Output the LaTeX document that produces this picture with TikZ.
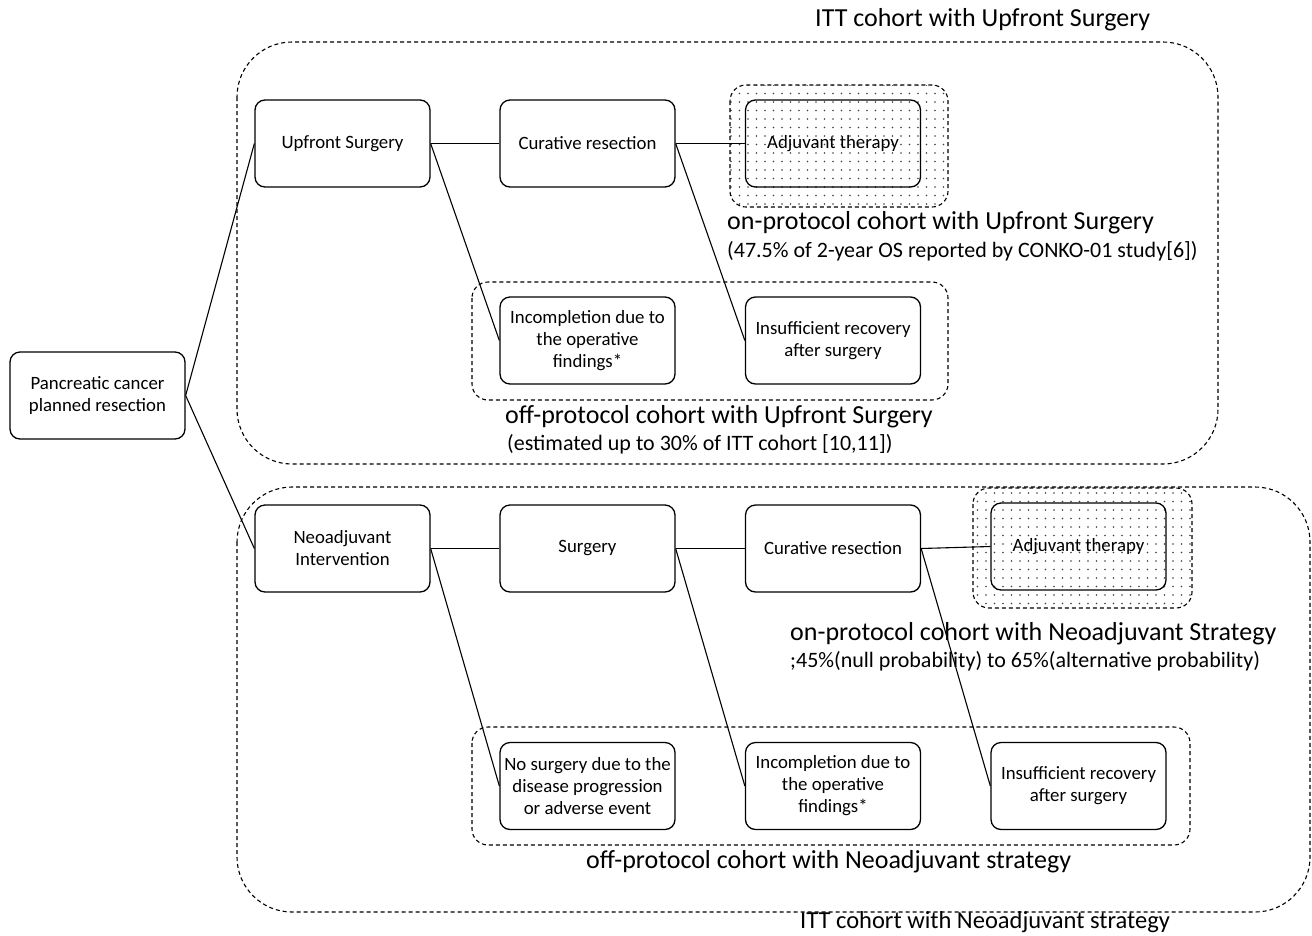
\documentclass[tikz,border=0pt]{standalone}
\usepackage{fontspec}
\setmainfont{Carlito}
\usetikzlibrary{patterns.meta}

\begin{document}
\begin{tikzpicture}[x=1pt, y=-1pt,
stage/.style = {draw, rounded corners=10pt, line width=1.3pt,
            minimum width=175pt, minimum height=87pt, inner sep=2pt,
            align=center, font=\fontsize{18.8}{22}\selectfont},
cohort/.style = {draw, line width=1.1pt, dash pattern=on 4pt off 3pt,
            rounded corners=#1},
cohort/.default = 16pt,
dotfill/.style = {pattern={Dots[distance=8.5pt, radius=0.8pt]},
            pattern color=black!75},
caption/.style = {anchor=base west, inner sep=0pt,
            font=\fontsize{#1}{30}\selectfont},
caption/.default = 26,
note/.style = {anchor=base west, inner sep=0pt,
            font=\fontsize{22}{26}\selectfont},
link/.style = {line width=1.1pt}
                ]
    \useasboundingbox (0,0) rectangle (1312,935);

    % cohort frames
    \draw[cohort=55pt] (237,42) rectangle (1218,464);
    \draw[cohort=55pt] (237,487) rectangle (1310,912);
    \draw[cohort] (472,282) rectangle (948,400);
    \draw[cohort] (472,727) rectangle (1190,845);
    \draw[cohort, dotfill] (730,85) rectangle (948,207);
    \draw[cohort, dotfill] (973,488) rectangle (1192,608);

    % stages
    \foreach \x/\y/\n/\txt in {97.5/395.5/pcr/{Pancreatic cancer\\planned resection},
            342.5/143.5/ups/{Upfront Surgery},
            587.5/143.5/cur1/{Curative resection},
            833/143.5/adj1/{Adjuvant therapy},
            587.5/340.5/inc1/{Incompletion due to\\the operative\\findings*},
            833/340.5/ins1/{Insufficient recovery\\after surgery},
            342.5/548.5/neo/{Neoadjuvant\\Intervention},
            587.5/548.5/sur/{Surgery},
            833/548.5/cur2/{Curative resection},
            1078.5/546.5/adj2/{Adjuvant therapy},
            587.5/786/nos/{No surgery due to the\\disease progression\\or adverse event},
            833/786/inc2/{Incompletion due to\\the operative\\findings*},
            1078.5/786/ins2/{Insufficient recovery\\after surgery}}
        \node[stage] (\n) at (\x,\y) {\txt};

    \foreach \a/\b in {pcr/ups, pcr/neo, ups/cur1, ups/inc1, cur1/adj1, cur1/ins1,
            neo/sur, neo/nos, sur/cur2, sur/inc2, cur2/adj2, cur2/ins2}
        \draw[link] (\a.east) -- (\b.west);

    % labels
    \node[caption] (ittup) at (815,26) {ITT cohort with Upfront Surgery};
    \node[caption] (onup) at (727,229) {on-protocol cohort with Upfront Surgery};
    \node[note] (onupnote) at (727,257) {(47.5\% of 2-year OS reported by CONKO-01 study[6])};
    \node[caption] (offup) at (505,423) {off-protocol cohort with Upfront Surgery};
    \node[note] (offupnote) at (507,450) {(estimated up to 30\% of ITT cohort [10,11])};
    \node[caption] (onneo) at (790,640) {on-protocol cohort with Neoadjuvant Strategy};
    \node[note] (onneonote) at (790,667) {;45\%(null probability) to 65\%(alternative probability)};
    \node[caption] (offneo) at (586,868) {off-protocol cohort with Neoadjuvant strategy};
    \node[caption=24.5] (ittneo) at (800,928) {ITT cohort with Neoadjuvant strategy};
\end{tikzpicture}
\end{document}
